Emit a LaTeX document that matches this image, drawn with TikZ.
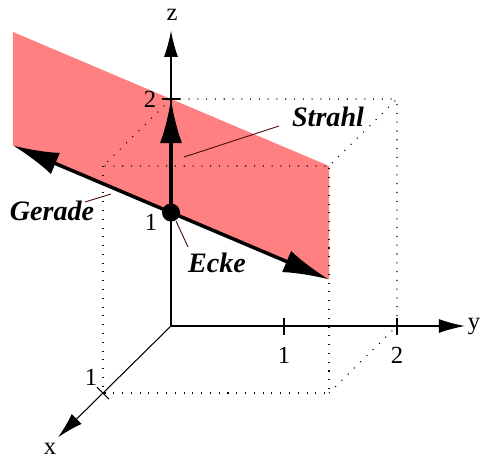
\documentclass[tikz,border=0pt]{standalone}
\usepackage{fontspec}
\setmainfont{Liberation Serif}
\usetikzlibrary{arrows.meta}
\definecolor{bandpink}{RGB}{255,128,128}
\definecolor{leadcol}{RGB}{70,10,10}
\tikzset{
  axis line/.style={line width=0.6pt, -{Latex[length=0.52cm,width=0.28cm]}},
  cube edge/.style={line width=0.6pt, dash pattern=on 0.6pt off 4.4pt},
  ray line/.style={line width=2pt, -{Latex[length=0.88cm,width=0.44cm]}},
  leader/.style={leadcol, line width=0.5pt},
  tag/.style={font=\fontsize{16}{18}\selectfont\bfseries\itshape, inner sep=0pt},
  num/.style={font=\fontsize{14}{16}\selectfont, inner sep=0pt},
}

\begin{document}
\begin{tikzpicture}[x={(-1.36cm,-1.34cm)}, y={(2.26cm,0cm)}, z={(0cm,2.27cm)}]
  \useasboundingbox (-3.42cm,-2.68cm) rectangle (6.2cm,6.52cm);
  \coordinate (O) at (0,0,0);    \coordinate (E) at (0,0,1);
  \coordinate (Z2) at (0,0,2);   \coordinate (X1) at (1,0,0);
  \coordinate (Y1) at (0,1,0);   \coordinate (Y2) at (0,2,0);
  \coordinate (ga) at (-1,-2,1); \coordinate (gb) at (1,2,1);
  % half plane
  \fill[bandpink] (-1,-2,2) -- (1,2,2) -- (gb) -- (ga) -- cycle;
  % cube
  \draw[cube edge] (Z2) -- (0,2,2) -- (1,2,2) -- (1,0,2) -- cycle;
  \draw[cube edge] (1,0,2) -- (X1) -- (1,2,0) -- (1,2,2);
  \draw[cube edge] (1,2,0) -- (Y2) -- (0,2,2);
  % axes
  \draw[axis line] (O) -- (0,0,2.6);
  \draw[axis line] (O) -- (0,2.6,0);
  \draw[axis line] (O) -- (1.66,0,0);
  \draw[line width=0.6pt] ([xshift=-0.18cm]Z2) -- ([xshift=0.18cm]Z2);
  \foreach \t in {Y1,Y2}{\draw[line width=0.6pt] ([yshift=-0.17cm]\t) -- ([yshift=0.17cm]\t);}
  \draw[line width=0.6pt] ([shift={(-0.12cm,0.12cm)}]X1) -- ([shift={(0.12cm,-0.12cm)}]X1);
  \node[num] (lz) at (0.02cm,6.22cm) {z};
  \node[num] (ly) at (6.06cm,0.0cm) {y};
  \node[num] (lx) at (-2.42cm,-2.46cm) {x};
  \node[num] (z2) at (-0.42cm,4.54cm) {2};
  \node[num] (z1) at (-0.40cm,2.08cm) {1};
  \node[num] (y1) at (2.26cm,-0.58cm) {1};
  \node[num] (y2) at (4.52cm,-0.58cm) {2};
  \node[num] (x1) at (-1.60cm,-1.02cm) {1};
  % line, ray, corner
  \draw[ray line, {Latex[length=0.92cm,width=0.46cm]}-{Latex[length=0.92cm,width=0.46cm]}] (ga) -- (gb);
  \draw[ray line] (E) -- (Z2);
  \node[circle, fill, inner sep=0pt, minimum size=0.36cm] (ecke) at (E) {};
  % labels
  \node[tag] (strahl) at (3.14cm,4.18cm) {Strahl};
  \node[tag] (gerade) at (-2.38cm,2.30cm) {Gerade};
  \node[tag] (eck) at (0.92cm,1.26cm) {Ecke};
  \coordinate (sp) at (0.26cm,3.38cm);
  \coordinate (gp) at (-1.20cm,2.64cm);
  \coordinate (ep) at (0.10cm,2.10cm);
  \draw[leader] (sp) -- (2.16cm,4.0cm);
  \draw[leader] (gp) -- (-1.72cm,2.48cm);
  \draw[leader] (ep) -- (0.34cm,1.58cm);
\end{tikzpicture}
\end{document}
